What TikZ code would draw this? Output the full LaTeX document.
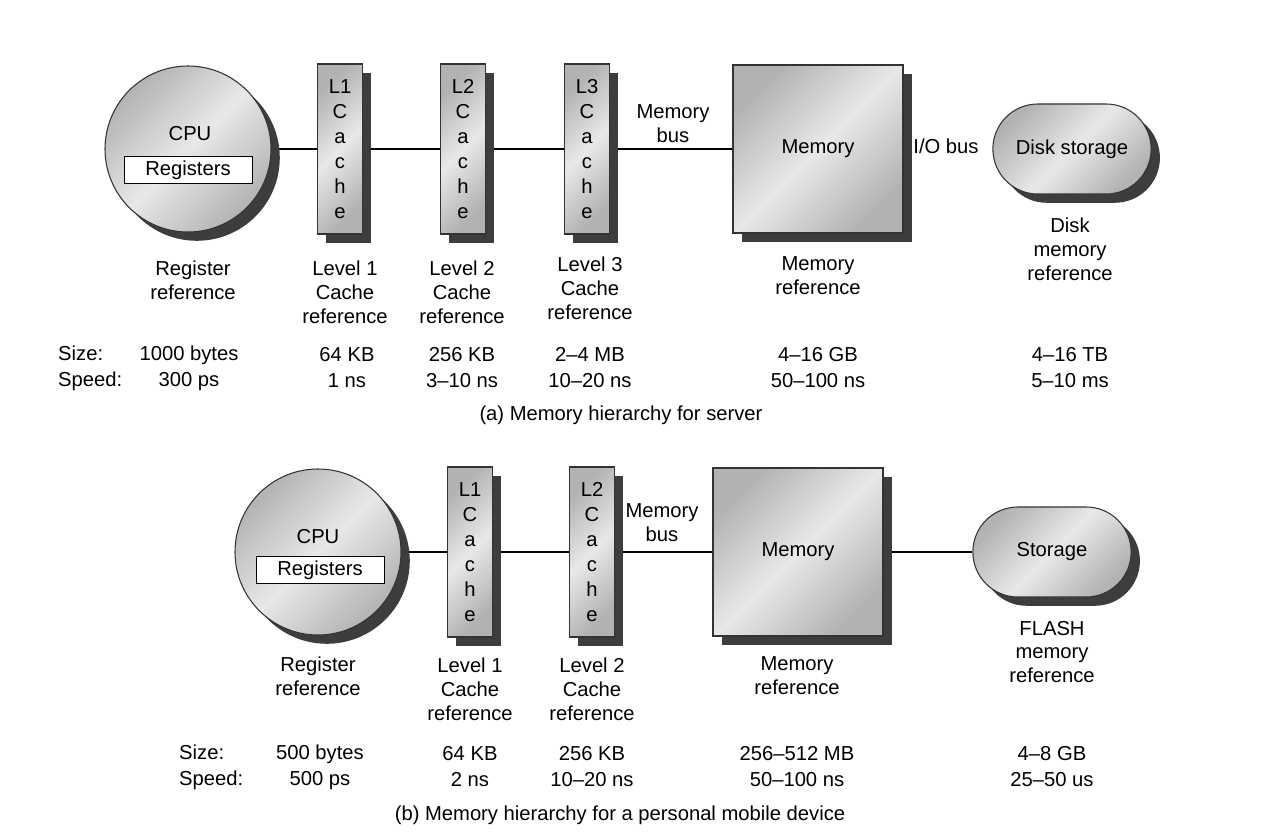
\documentclass[tikz,border=0pt]{standalone}
\usepackage{fontspec}
\setmainfont{Liberation Sans}
\usetikzlibrary{shapes.misc,shadows,backgrounds}
\definecolor{hwedge}{gray}{0.7}
\definecolor{hwlight}{gray}{0.91}
\definecolor{hwshadow}{gray}{0.24}

\begin{document}
\begin{tikzpicture}[x=0.2mm,y=-0.2mm]
  \tikzstyle{every node}=[font=\fontsize{11.5}{13.6}\selectfont, align=center]
  \tikzstyle{hwbox}=[draw=black!80, line width=0.6pt, left color=hwedge, right color=hwedge, middle color=hwlight, shading angle=45, drop shadow={shadow xshift=5pt, shadow yshift=-5pt, fill=hwshadow, opacity=1}]
  \tikzstyle{cpu}=[hwbox, circle, minimum size=3.32cm, inner sep=0pt]
  \tikzstyle{cache}=[hwbox, minimum width=0.9cm, minimum height=3.4cm, inner sep=0pt, font=\fontsize{11.5}{14.2}\selectfont]
  \tikzstyle{mem}=[hwbox, minimum width=3.4cm, minimum height=3.36cm]
  \tikzstyle{store}=[hwbox, rounded rectangle, minimum width=3.4cm, minimum height=1.8cm]
  \tikzstyle{regs}=[draw, fill=white, minimum width=2.56cm, minimum height=0.54cm, inner sep=0pt]
  \tikzstyle{spec}=[font=\fontsize{11.5}{14.8}\selectfont]
  \tikzstyle{bus}=[thick]
  \useasboundingbox (0,0) rectangle (1272,834);

  % (a) server
  \node[cpu] (cpuA) at (188,149) {};
  \node (cpuAt) at (190,134) {CPU};
  \node[regs] (regA) at (188,170) {Registers};
  \node[cache] (l1A) at (340,149) {L1\\C\\a\\c\\h\\e};
  \node[cache] (l2A) at (463,149) {L2\\C\\a\\c\\h\\e};
  \node[cache] (l3A) at (587,149) {L3\\C\\a\\c\\h\\e};
  \node[mem] (memA) at (818,149) {Memory};
  \node[store] (diskA) at (1072,149) {Disk storage};
  \node (mbusA) at (673,124) {Memory\\bus};
  \node (iobusA) at (946,146) {I/O bus};
  \begin{scope}[on background layer]
    \draw[bus] (cpuA) -- (l1A) -- (l2A) -- (l3A) -- (memA);
  \end{scope}

  \node (refA0) at (193,280) {Register\\reference};
  \node (refA1) at (345,292) {Level 1\\Cache\\reference};
  \node (refA2) at (462,292) {Level 2\\Cache\\reference};
  \node (refA3) at (590,288) {Level 3\\Cache\\reference};
  \node (refA4) at (818,276) {Memory\\reference};
  \node (refA5) at (1070,249) {Disk\\memory\\reference};

  \node[spec, anchor=west, align=left] (keyA) at (52,368) {Size:\\Speed:};
  \node[spec] (valA0) at (189,368) {1000 bytes\\300 ps};
  \node[spec] (valA1) at (347,368) {64 KB\\1 ns};
  \node[spec] (valA2) at (462,368) {256 KB\\3--10 ns};
  \node[spec] (valA3) at (590,368) {2--4 MB\\10--20 ns};
  \node[spec] (valA4) at (818,368) {4--16 GB\\50--100 ns};
  \node[spec] (valA5) at (1070,368) {4--16 TB\\5--10 ms};
  \node (capA) at (621,415) {(a) Memory hierarchy for server};

  % (b) personal mobile device
  \node[cpu] (cpuB) at (318,552) {};
  \node (cpuBt) at (318,537) {CPU};
  \node[regs] (regB) at (320,570) {Registers};
  \node[cache] (l1B) at (470,552) {L1\\C\\a\\c\\h\\e};
  \node[cache] (l2B) at (592,552) {L2\\C\\a\\c\\h\\e};
  \node[mem] (memB) at (798,552) {Memory};
  \node[store] (diskB) at (1052,552) {Storage};
  \node (mbusB) at (662,523) {Memory\\bus};
  \begin{scope}[on background layer]
    \draw[bus] (cpuB) -- (l1B) -- (l2B) -- (memB) -- (diskB);
  \end{scope}

  \node (refB0) at (318,676) {Register\\reference};
  \node (refB1) at (470,689) {Level 1\\Cache\\reference};
  \node (refB2) at (592,689) {Level 2\\Cache\\reference};
  \node (refB4) at (797,676) {Memory\\reference};
  \node (refB5) at (1052,652) {FLASH\\memory\\reference};

  \node[spec, anchor=west, align=left] (keyB) at (173,767) {Size:\\Speed:};
  \node[spec] (valB0) at (320,767) {500 bytes\\500 ps};
  \node[spec] (valB1) at (470,767) {64 KB\\2 ns};
  \node[spec] (valB2) at (592,767) {256 KB\\10--20 ns};
  \node[spec] (valB4) at (797,767) {256--512 MB\\50--100 ns};
  \node[spec] (valB5) at (1052,767) {4--8 GB\\25--50 us};
  \node (capB) at (620,815) {(b) Memory hierarchy for a personal mobile device};
\end{tikzpicture}
\end{document}
